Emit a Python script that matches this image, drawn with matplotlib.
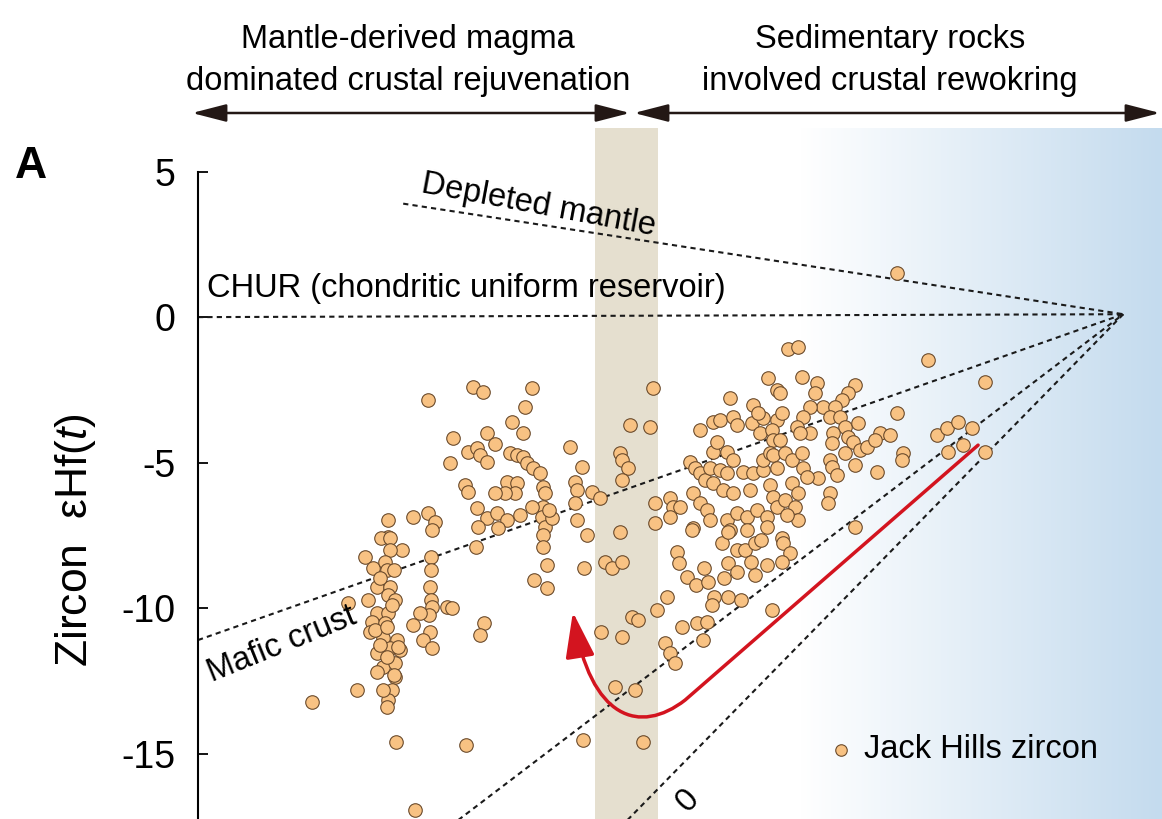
import numpy as np
import matplotlib
matplotlib.use('Agg')
import matplotlib.pyplot as plt
from matplotlib.colors import LinearSegmentedColormap
from matplotlib.patches import FancyArrowPatch, ArrowStyle
from matplotlib.path import Path

plt.rcParams['font.family'] = ['Liberation Sans', 'DejaVu Sans']
plt.rcParams['mathtext.fontset'] = 'custom'
plt.rcParams['mathtext.rm'] = 'Liberation Sans'
plt.rcParams['mathtext.it'] = 'Liberation Sans:italic'

# Jack Hills zircon, age (Ma) vs eHf(t)
left_age = [3420, 3420, 3410, 3424, 3442, 3424, 3385, 3397, 3416, 3419, 3430, 3358,
            3403, 3424, 3420, 3431, 3389, 3403, 3396, 3393, 3420, 3416, 3413, 3434,
            3424, 3439, 3403, 3413, 3431, 3403, 3431, 3427, 3420, 3419, 3413, 3400,
            3419, 3436, 3430, 3419, 3408, 3427, 3408, 3303, 3372, 3433, 3462, 3459,
            3482, 3493, 3489, 3487, 3487, 3486, 3487, 3489, 3484, 3470, 3459, 3486,
            3475, 3489, 3512]
left_eps = [-6.98, -7.56, -7.59, -7.59, -8.01, -8.01, -8.25, -8.63, -8.42, -8.69, -8.69, -9.83,
            -9.28, -9.28, -9.55, -9.73, -9.73, -10.17, -10.48, -10.82, -10.17, -10.52, -11.03, -11.10,
            -11.37, -11.44, -11.55, -12.03, -11.89, -12.20, -12.37, -12.82, -13.16, -13.40, -12.82, -10.76,
            -10.65, -11.34, -12.30, -11.68, -11.27, -9.90, -8.97, -13.23, -12.82, -14.60, -16.94, -6.87,
            -6.74, -7.04, -7.32, -8.25, -8.69, -9.28, -9.73, -9.97, -10.24, -10.17, -10.58, -10.82,
            -11.10, -11.37, -9.97]

mid_age = [3482, 3552, 3568, 3644, 3633, 3613, 3630, 3521, 3574, 3586, 3544, 3558,
           3563, 3517, 3574, 3610, 3620, 3630, 3636, 3645, 3656, 3703, 3721, 3540,
           3544, 3605, 3620, 3617, 3602, 3586, 3661, 3664, 3710, 3713, 3558, 3574,
           3560, 3589, 3605, 3661, 3659, 3664, 3661, 3625, 3675, 3713, 3591, 3557,
           3644, 3670, 3661, 3667, 3647, 3667, 3729, 3724, 3710, 3520, 3569, 3563,
           3541]
mid_eps = [-2.85, -2.41, -2.58, -2.44, -3.09, -3.61, -3.99, -4.16, -3.99, -4.36, -4.64, -4.50,
           -4.74, -5.02, -4.98, -4.67, -4.74, -4.81, -5.02, -5.19, -5.36, -4.47, -5.15, -5.77,
           -6.01, -5.67, -5.70, -6.05, -6.05, -6.05, -5.84, -6.05, -5.67, -5.95, -6.56, -6.91,
           -7.22, -6.74, -6.98, -6.53, -6.87, -7.22, -7.49, -6.80, -6.91, -6.98, -7.25, -7.90,
           -6.53, -6.63, -7.90, -8.52, -9.04, -9.31, -7.49, -8.63, -6.39, -10.00, -10.52, -10.93,
           -14.71]

band_pt_age = [3831, 3796, 3827, 3780, 3783, 3792, 3783, 3737, 3749, 3780, 3757, 3768,
               3783, 3834, 3834, 3799, 3808, 3751, 3783, 3772, 3803, 3723, 3816]
band_pt_eps = [-2.44, -3.71, -3.78, -4.67, -4.91, -5.19, -5.60, -6.01, -6.22, -7.39, -8.42, -8.63,
               -8.42, -7.08, -6.39, -10.31, -10.41, -10.82, -11.00, -12.71, -12.82, -14.54, -14.60]

right_age = [3857, 3862, 3873, 3857, 3904, 3924, 3935, 3955, 3961, 3985, 4002, 4023,
             3997, 4016, 3951, 3986, 3994, 4009, 4023, 3889, 3896, 3904, 3912, 3924,
             3930, 3946, 3955, 3920, 3935, 3946, 3971, 3986, 4002, 4002, 4017, 4013,
             3924, 3940, 3955, 3982, 4013, 4017, 3893, 3904, 3915, 3920, 3946, 3961,
             3977, 3992, 4008, 4023, 3893, 3951, 3977, 4209, 4040, 4056, 4257, 4346,
             4028, 4062, 4085, 4082, 4144, 4133, 4124, 4095, 4113, 4105, 4075, 4064,
             4031, 4054, 4075, 4059, 4121, 4129, 4149, 4209, 4028, 4110, 4109, 4133,
             4141, 4152, 4183, 4199, 4163, 4175, 4219, 4217, 4178, 4271, 4287, 4304,
             4326, 4288, 4312, 4346, 4017, 4036, 4047, 4062, 4023, 4064, 4087, 4105,
             4109, 4116, 4129, 4144, 4047, 4036, 4056, 4051, 4056, 4105, 4102, 4008,
             4031, 4144, 4070, 4039, 4033, 4044, 4008, 4031, 4016, 3892, 3868, 3871,
             3884, 3898, 3910, 3916, 3926, 3923, 3853, 3837, 3938, 3947, 3961, 3974,
             3989, 3999, 3947, 3961, 3983, 3989, 3947, 3968, 3941, 3850, 3857, 3865,
             3876, 3899, 3915, 3909]
right_eps = [-6.22, -6.53, -6.53, -6.87, -3.88, -3.61, -3.54, -3.44, -3.71, -3.64, -3.47, -3.54,
             -3.99, -3.88, -2.78, -3.02, -3.30, -2.10, -2.51, -4.98, -5.19, -5.36, -5.60, -4.64,
             -4.30, -4.64, -4.91, -5.19, -5.26, -5.36, -5.33, -5.36, -5.26, -4.91, -4.23, -4.67,
             -5.70, -5.95, -6.05, -5.95, -5.77, -6.19, -6.05, -6.39, -6.63, -6.98, -6.98, -6.74,
             -6.87, -6.63, -6.87, -6.53, -7.25, -7.32, -7.32, 1.51, -1.10, -1.03, -1.48, -2.23,
             -2.61, -2.06, -2.27, -2.61, -2.34, -2.61, -2.85, -3.09, -3.09, -3.44, -3.09, -3.44,
             -3.30, -3.78, -3.99, -3.99, -3.44, -3.78, -3.64, -3.30, -4.23, -3.99, -4.33, -4.12,
             -4.30, -4.57, -3.99, -4.05, -4.47, -4.23, -4.67, -4.91, -5.33, -4.05, -3.81, -3.61,
             -3.81, -4.64, -4.40, -4.64, -4.74, -4.67, -4.91, -4.67, -5.19, -5.19, -5.53, -4.91,
             -5.15, -5.43, -4.67, -5.09, -5.70, -6.29, -6.05, -6.53, -6.98, -6.05, -6.39, -7.22,
             -7.59, -7.22, -5.50, -6.80, -7.77, -8.11, -8.52, -8.42, -10.07, -7.32, -8.08, -8.45,
             -8.93, -9.21, -8.63, -9.11, -9.62, -9.90, -9.62, -10.07, -7.77, -7.39, -8.01, -8.01,
             -7.77, -7.66, -8.45, -8.76, -8.42, -8.87, -9.62, -9.73, -8.97, -11.20, -11.55, -11.89,
             -10.65, -10.52, -10.48, -11.10]

# reference evolution lines, all meeting at the solar-system start
origin_age, origin_eps = 4560, 0.1
ref_start_age = [3126, 3444, 3126, 3487, 3760]   # CHUR, DM, mafic, felsic, Lu/Hf=0
ref_start_eps = [0.0, 3.9, -11.1, -18.0, -18.0]

# red trend arrow (line then curve)
red_age = [4335, 3881, 3811, 3734, 3707]
red_eps = [-4.40, -13.16, -14.36, -13.85, -10.14]

band_span = (3741, 3839)        # sediment band
blue_start = 4059               # start of blue shading

W, H = 1162, 819
fig = plt.figure(figsize=(W / 100, H / 100), dpi=100)
ax = fig.add_axes([198 / W, 0, 964 / W, 691 / H])
ax.set_xlim(3126, 4620)
ax.set_ylim(-17.25, 6.5)
ax.set_facecolor('none')

# background shading
cmap = LinearSegmentedColormap.from_list('bl', ['#ffffff', '#c4dbee'])
ax.imshow(np.linspace(0, 1, 256)[None, :], extent=[blue_start, 4620, -17.25, 6.5],
          cmap=cmap, aspect='auto', zorder=0)
ax.axvspan(band_span[0], band_span[1], color='#e5dfcf', lw=0, zorder=0.5)

for a, e in zip(ref_start_age, ref_start_eps):
    ax.plot([a, origin_age], [e, origin_eps], ls=(0, (2.5, 2)), color='#1a1a1a',
            lw=1.5, zorder=2)

pt_style = dict(s=95, c='#f8c283', edgecolors='#6b4b2c', linewidths=0.8, zorder=3)
h = ax.scatter(left_age, left_eps, **pt_style)
ax.scatter(mid_age, mid_eps, **pt_style)
ax.scatter(band_pt_age, band_pt_eps, **pt_style)
ax.scatter(right_age, right_eps, **pt_style)

verts = list(zip(red_age, red_eps))
codes = [Path.MOVETO, Path.LINETO, Path.CURVE4, Path.CURVE4, Path.CURVE4]
red = FancyArrowPatch(path=Path(verts, codes),
                      arrowstyle=ArrowStyle('-|>', head_length=1.4, head_width=0.45),
                      mutation_scale=20, color='#d3141f', lw=2.5, zorder=4)
ax.add_patch(red)

# labels on the reference lines
ax.text(3140, 0.69, 'CHUR (chondritic uniform reservoir)', fontsize=23.5,
        ha='left', va='baseline')
ax.text(3470, 4.3, 'Depleted mantle', fontsize=23.5, rotation=-10.5,
        rotation_mode='anchor', ha='left', va='baseline')
ax.text(3148, -12.54, 'Mafic crust', fontsize=23.5, rotation=22,
        rotation_mode='anchor', ha='left', va='baseline')
ax.text(3905, -16.6, '0', fontsize=23.5, rotation=46,
        rotation_mode='anchor', ha='right', va='baseline')

# axes styling
for s in ['top', 'right', 'bottom']:
    ax.spines[s].set_visible(False)
ax.spines['left'].set_linewidth(1.5)
ax.spines['left'].set_bounds(-17.25, 5)
ax.set_xticks([])
ax.set_yticks([5, 0, -5, -10, -15])
ax.set_yticklabels(['5', '0', '-5', '-10', '-15'])
ax.tick_params(axis='y', direction='in', length=7, width=1.3, labelsize=27, pad=16)

leg = ax.legend([h], ['Jack Hills zircon'], loc='center left',
                bbox_to_anchor=(828 / W, 1 - 750 / H), bbox_transform=fig.transFigure,
                frameon=False, fontsize=23.5, handlelength=0.8, handletextpad=0.3,
                borderpad=0, borderaxespad=0, scatterpoints=1, markerscale=0.85)

fig.text(75 / W, 1 - 540 / H, r'Zircon  εHf($\mathit{t}$)', rotation=90,
         ha='center', va='center', fontsize=32)
fig.text(31 / W, 1 - 166 / H, 'A', fontsize=32, fontweight='bold', ha='center', va='center')

# top headers with double arrows
fig.text(408 / W, 1 - 48 / H, 'Mantle-derived magma', ha='center', va='baseline', fontsize=23.5)
fig.text(408 / W, 1 - 90 / H, 'dominated crustal rejuvenation', ha='center', va='baseline',
         fontsize=23.5)
fig.text(890 / W, 1 - 48 / H, 'Sedimentary rocks', ha='center', va='baseline', fontsize=23.5)
fig.text(890 / W, 1 - 90 / H, 'involved crustal rewokring', ha='center', va='baseline',
         fontsize=23.5)
arr_y = 1 - 113 / H
for x0, x1 in [(192, 630), (634, 1160)]:
    fig.add_artist(FancyArrowPatch((x0 / W, arr_y), (x1 / W, arr_y), transform=fig.transFigure,
                                   arrowstyle=ArrowStyle('<|-|>', head_length=1.05, head_width=0.27),
                                   mutation_scale=20, color='#231815', lw=1.8,
                                   shrinkA=0, shrinkB=0))

fig.savefig('out.png', dpi=100)
